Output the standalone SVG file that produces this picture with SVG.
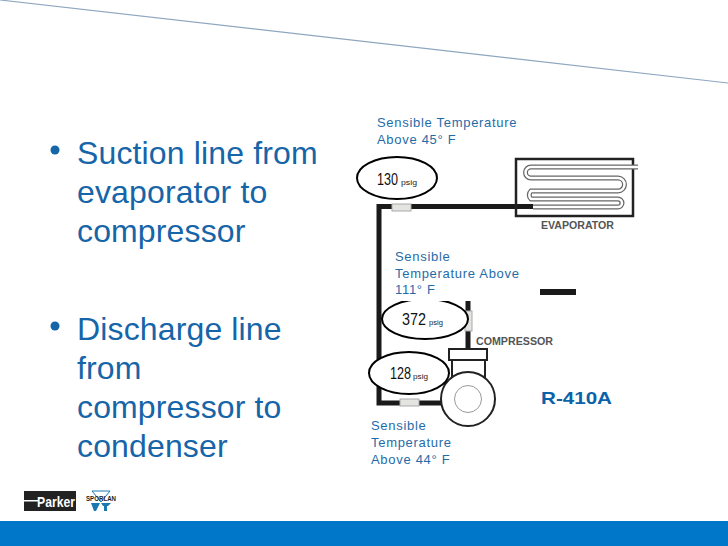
<svg xmlns="http://www.w3.org/2000/svg" width="728" height="546" viewBox="0 0 728 546">
<defs>
<path id="coil" d="M638 167H531A5.500 5.500 0 0 0 531 178H618A6.500 6.500 0 0 1 618 191H531A5.500 5.500 0 0 0 531 199H618A4 4 0 0 1 618 207H533"/>
</defs>
<style>
text{font-family:"Liberation Sans",Arial,sans-serif}
.b{font-size:32px;fill:#1665a8;letter-spacing:.14px}
.s{font-size:13px;fill:#1f6ca8;letter-spacing:.7px}
.l{font-size:11px;font-weight:bold;fill:#555}
.e{fill:#fff;stroke:#000;stroke-width:2}
.n{font-size:16px;fill:#111}
.p{font-size:8px;fill:#222}
.pipe{fill:none;stroke:#1a1a1a;stroke-width:5}
.port{fill:#e4e4e0;stroke:#aaa;stroke-width:1}
.co{fill:none;stroke:#666;stroke-width:5}
.ci{fill:none;stroke:#fff;stroke-width:2.500}
</style>
<rect width="728" height="546" fill="#fff"/>
<path d="M0 0L728 83" stroke="#8ea6c0" stroke-width="1.200" fill="none"/>
<rect x="0" y="521" width="728" height="25" fill="#0077c8"/>
<g id="bullets">
<circle cx="55" cy="150" r="4.500" fill="#1665a8"/>
<text class="b" x="77" y="164">Suction line from</text>
<text class="b" x="77" y="203">evaporator to</text>
<text class="b" x="77" y="242">compressor</text>
<circle cx="55" cy="326" r="4.500" fill="#1665a8"/>
<text class="b" x="77" y="340">Discharge line</text>
<text class="b" x="77" y="379">from</text>
<text class="b" x="77" y="418">compressor to</text>
<text class="b" x="77" y="457">condenser</text>
</g>
<g id="logos">
<rect x="24" y="491" width="52" height="20" fill="#222"/>
<rect x="24" y="500" width="14" height="1.500" fill="#fff"/>
<text x="37" y="507" font-size="15" font-weight="bold" fill="#fff" textLength="38" lengthAdjust="spacingAndGlyphs">Parker</text>
<path d="M92 491H110L101 502Z" fill="none" stroke="#1a7ab0" stroke-width="1"/>
<text x="86" y="501" font-size="6.500" font-weight="bold" fill="#222" textLength="30" lengthAdjust="spacingAndGlyphs">SPORLAN</text>
<path d="M91 503H100L96 511H94ZM101 503H111L108 506H107V511H104V506H103Z" fill="#1a7ab0"/>
</g>
<g id="connectors">
<path class="pipe" d="M533 206.500H379V403H445"/>
<path class="pipe" d="M468 301V349"/>
</g>
<g id="evaporator">
<rect x="516" y="159" width="117" height="57" fill="none" stroke="#222" stroke-width="2.500"/>
<use href="#coil" class="co"/>
<use href="#coil" class="ci"/>
<text class="l" x="541" y="229" textLength="73" lengthAdjust="spacingAndGlyphs">EVAPORATOR</text>
</g>
<g id="suction-port">
<rect x="392" y="204" width="19" height="7" class="port"/>
</g>
<g id="compressor">
<rect x="449" y="349" width="38" height="11" fill="#fff" stroke="#222" stroke-width="2"/>
<path d="M452 360V378M485 360V378" stroke="#222" stroke-width="2"/>
<circle cx="468" cy="399" r="27" fill="#fff" stroke="#222" stroke-width="2"/>
<circle cx="468" cy="399" r="13.500" fill="#fff" stroke="#999" stroke-width="1"/>
<text class="l" x="476" y="345" textLength="77" lengthAdjust="spacingAndGlyphs">COMPRESSOR</text>
</g>
<g id="discharge-port">
<rect x="465" y="311" width="7" height="20" class="port"/>
</g>
<g id="bottom-port">
<rect x="400" y="399" width="19" height="7" class="port"/>
</g>
<g id="gauge-130">
<ellipse class="e" cx="397" cy="178" rx="40" ry="21"/>
<text class="n" x="377" y="185" textLength="21" lengthAdjust="spacingAndGlyphs">130</text>
<text class="p" x="401" y="185" textLength="16" lengthAdjust="spacingAndGlyphs">psig</text>
</g>
<g id="gauge-372">
<ellipse class="e" cx="425" cy="319" rx="43" ry="20"/>
<rect x="383" y="290" width="88" height="11" fill="#fff"/>
<text class="n" x="402" y="325" textLength="24" lengthAdjust="spacingAndGlyphs">372</text>
<text class="p" x="429" y="325" textLength="14" lengthAdjust="spacingAndGlyphs">psig</text>
</g>
<g id="gauge-128">
<ellipse class="e" cx="409" cy="373" rx="40" ry="21"/>
<text class="n" x="390" y="379" textLength="21" lengthAdjust="spacingAndGlyphs">128</text>
<text class="p" x="413" y="379" textLength="15" lengthAdjust="spacingAndGlyphs">psig</text>
</g>
<g id="labels">
<text class="s" x="377" y="127">Sensible Temperature</text>
<text class="s" x="377" y="144">Above 45° F</text>
<text class="s" x="395" y="261">Sensible</text>
<text class="s" x="395" y="278">Temperature Above</text>
<text class="s" x="395" y="294">111° F</text>
<text class="s" x="371" y="430">Sensible</text>
<text class="s" x="371" y="447">Temperature</text>
<text class="s" x="371" y="464">Above 44° F</text>
<text x="541" y="404" font-size="17" font-weight="bold" fill="#0b62a8" textLength="71" lengthAdjust="spacingAndGlyphs">R-410A</text>
</g>
<rect id="bar" x="540" y="289" width="36" height="6" fill="#1a1a1a"/>
</svg>
